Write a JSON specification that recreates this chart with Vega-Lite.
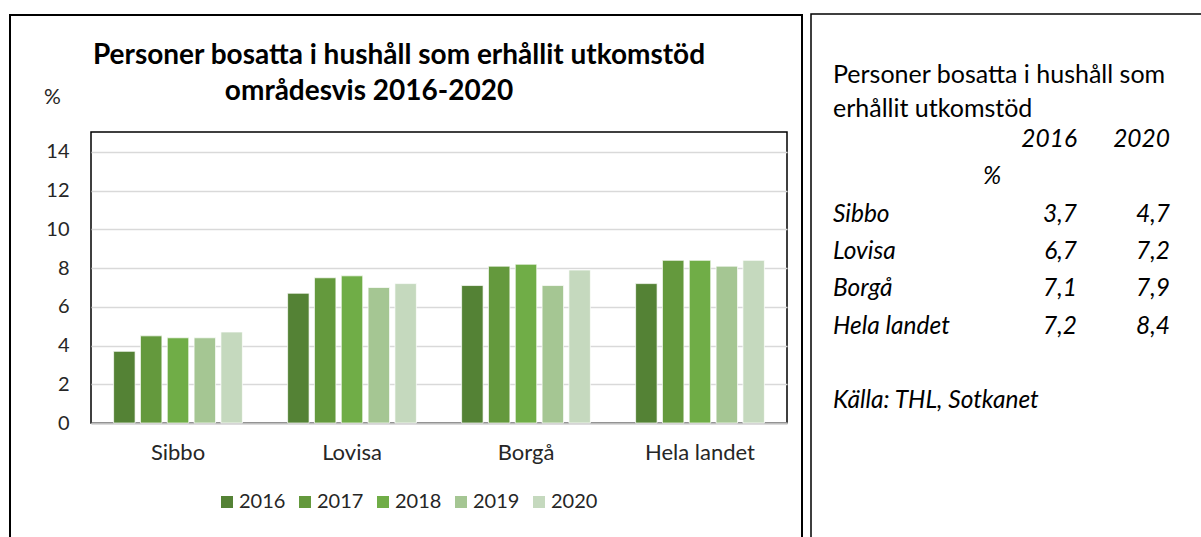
{
  "$schema": "https://vega.github.io/schema/vega-lite/v6.json",
  "width": 696,
  "height": 291,
  "autosize": {"type": "none"},
  "padding": {"left": 91, "top": 132, "right": 414, "bottom": 114},
  "background": "white",
  "config": {
    "font": "Lato",
    "view": {"stroke": "black", "strokeWidth": 1.5},
    "locale": {"number": {"decimal": ",", "thousands": " ", "grouping": [3], "currency": ["", " €"]}}
  },
  "datasets": {
    "bars": [
      {"omrade": "Sibbo", "ar": "2016", "varde": 3.7},
      {"omrade": "Sibbo", "ar": "2017", "varde": 4.5},
      {"omrade": "Sibbo", "ar": "2018", "varde": 4.4},
      {"omrade": "Sibbo", "ar": "2019", "varde": 4.4},
      {"omrade": "Sibbo", "ar": "2020", "varde": 4.7},
      {"omrade": "Lovisa", "ar": "2016", "varde": 6.7},
      {"omrade": "Lovisa", "ar": "2017", "varde": 7.5},
      {"omrade": "Lovisa", "ar": "2018", "varde": 7.6},
      {"omrade": "Lovisa", "ar": "2019", "varde": 7.0},
      {"omrade": "Lovisa", "ar": "2020", "varde": 7.2},
      {"omrade": "Borgå", "ar": "2016", "varde": 7.1},
      {"omrade": "Borgå", "ar": "2017", "varde": 8.1},
      {"omrade": "Borgå", "ar": "2018", "varde": 8.2},
      {"omrade": "Borgå", "ar": "2019", "varde": 7.1},
      {"omrade": "Borgå", "ar": "2020", "varde": 7.9},
      {"omrade": "Hela landet", "ar": "2016", "varde": 7.2},
      {"omrade": "Hela landet", "ar": "2017", "varde": 8.4},
      {"omrade": "Hela landet", "ar": "2018", "varde": 8.4},
      {"omrade": "Hela landet", "ar": "2019", "varde": 8.1},
      {"omrade": "Hela landet", "ar": "2020", "varde": 8.4}
    ],
    "one": [{}]
  },
  "layer": [
    {
      "data": {"name": "one"},
      "mark": {"type": "rect", "fill": null, "fillOpacity": 0, "stroke": "black", "strokeWidth": 2},
      "encoding": {"x": {"value": -81}, "x2": {"value": 711}, "y": {"value": -117}, "y2": {"value": 440}}
    },
    {
      "data": {"name": "one"},
      "mark": {"type": "rect", "fill": null, "fillOpacity": 0, "stroke": "black", "strokeWidth": 1.5},
      "encoding": {"x": {"value": 720}, "x2": {"value": 1140}, "y": {"value": -118}, "y2": {"value": 440}}
    },
    {
      "data": {"name": "one"},
      "mark": {"type": "text", "text": "Personer bosatta i hushåll som erhållit utkomstöd", "font": "Lato", "fontSize": 28, "fontWeight": "bold", "align": "center", "baseline": "alphabetic", "color": "black"},
      "encoding": {"x": {"value": 308}, "y": {"value": -68}}
    },
    {
      "data": {"name": "one"},
      "mark": {"type": "text", "text": "områdesvis 2016-2020", "font": "Lato", "fontSize": 28, "fontWeight": "bold", "align": "center", "baseline": "alphabetic", "color": "black"},
      "encoding": {"x": {"value": 278}, "y": {"value": -32}}
    },
    {
      "data": {"name": "bars"},
      "mark": {"type": "bar", "stroke": "white", "strokeWidth": 1, "strokeOpacity": 0.7},
      "encoding": {
        "x": {
          "field": "omrade", "type": "nominal",
          "sort": ["Sibbo", "Lovisa", "Borgå", "Hela landet"],
          "scale": {"paddingInner": 0.26, "paddingOuter": 0.13},
          "axis": {"title": null, "labelAngle": 0, "labelFontSize": 22, "labelColor": "#262626", "labelFont": "Lato", "domainColor": "#bfbfbf", "domainWidth": 2, "ticks": false, "labelPadding": 19}
        },
        "xOffset": {"field": "ar", "type": "nominal", "scale": {"paddingInner": 0.2}},
        "y": {
          "field": "varde", "type": "quantitative",
          "scale": {"domain": [0, 15.03], "nice": false},
          "axis": {"values": [0, 2, 4, 6, 8, 10, 12, 14], "title": "%", "titleAngle": 0, "titleX": -39, "titleY": -35, "titleAlign": "center", "titleBaseline": "middle", "titleFontWeight": "normal", "titleFontSize": 21, "titleFont": "Lato", "titleColor": "#262626", "labelFontSize": 20, "labelFont": "Lato", "labelColor": "#262626", "grid": true, "gridColor": "#d9d9d9", "gridWidth": 1.5, "domain": false, "ticks": false, "labelPadding": 22}
        },
        "color": {
          "field": "ar", "type": "nominal",
          "scale": {"domain": ["2016", "2017", "2018", "2019", "2020"], "range": ["#548235", "#64993d", "#70ad47", "#a5c693", "#c5d9be"]},
          "legend": {"orient": "none", "legendX": 126, "legendY": 360, "direction": "horizontal", "title": null, "symbolType": "square", "symbolSize": 144, "symbolStrokeWidth": 0, "symbolOpacity": 1, "labelFontSize": 20, "labelFont": "Lato", "labelColor": "#262626", "columnPadding": 9, "labelOffset": 2}
        }
      }
    },
    {
      "data": {"name": "one"},
      "mark": {"type": "text", "text": ["Personer bosatta i hushåll som", "erhållit utkomstöd"], "font": "Lato", "fontSize": 25, "align": "left", "baseline": "alphabetic", "lineHeight": 34, "color": "black"},
      "encoding": {"x": {"value": 742}, "y": {"value": -49}}
    },
    {
      "data": {"values": [{"ar": "2016"}, {"ar": "2020"}]},
      "mark": {"type": "text", "font": "Lato", "fontSize": 24.5, "fontStyle": "italic", "align": "right", "baseline": "alphabetic", "color": "black"},
      "encoding": {
        "x": {"field": "ar", "type": "nominal", "scale": {"domain": ["2016", "2020"], "range": [986, 1079], "padding": 0}, "axis": null},
        "y": {"value": 14.7},
        "text": {"field": "ar"}
      }
    },
    {
      "data": {"name": "one"},
      "mark": {"type": "text", "text": "%", "font": "Lato", "fontSize": 24.5, "fontStyle": "italic", "align": "center", "baseline": "alphabetic", "color": "black"},
      "encoding": {"x": {"value": 901}, "y": {"value": 51.5}}
    },
    {
      "data": {"name": "bars"},
      "transform": [{"filter": "datum.ar === '2016'"}],
      "mark": {"type": "text", "font": "Lato", "fontSize": 24.5, "fontStyle": "italic", "align": "left", "baseline": "alphabetic", "color": "black"},
      "encoding": {
        "x": {"value": 742},
        "y": {"field": "omrade", "type": "nominal", "sort": ["Sibbo", "Lovisa", "Borgå", "Hela landet"], "scale": {"range": [90, 201.5], "padding": 0}, "axis": null},
        "text": {"field": "omrade"}
      }
    },
    {
      "data": {"name": "bars"},
      "transform": [{"filter": "datum.ar === '2016' || datum.ar === '2020'"}],
      "mark": {"type": "text", "font": "Lato", "fontSize": 24.5, "fontStyle": "italic", "align": "right", "baseline": "alphabetic", "color": "black"},
      "encoding": {
        "x": {"field": "ar", "type": "nominal", "scale": {"domain": ["2016", "2020"], "range": [986, 1079], "padding": 0}, "axis": null},
        "y": {"field": "omrade", "type": "nominal", "sort": ["Sibbo", "Lovisa", "Borgå", "Hela landet"], "scale": {"range": [90, 201.5], "padding": 0}, "axis": null},
        "text": {"field": "varde", "type": "quantitative", "format": ".1f"}
      }
    },
    {
      "data": {"name": "one"},
      "mark": {"type": "text", "text": "Källa: THL, Sotkanet", "font": "Lato", "fontSize": 24.5, "fontStyle": "italic", "align": "left", "baseline": "alphabetic", "color": "black"},
      "encoding": {"x": {"value": 742}, "y": {"value": 276}}
    }
  ],
  "resolve": {"scale": {"x": "independent", "y": "independent"}}
}
